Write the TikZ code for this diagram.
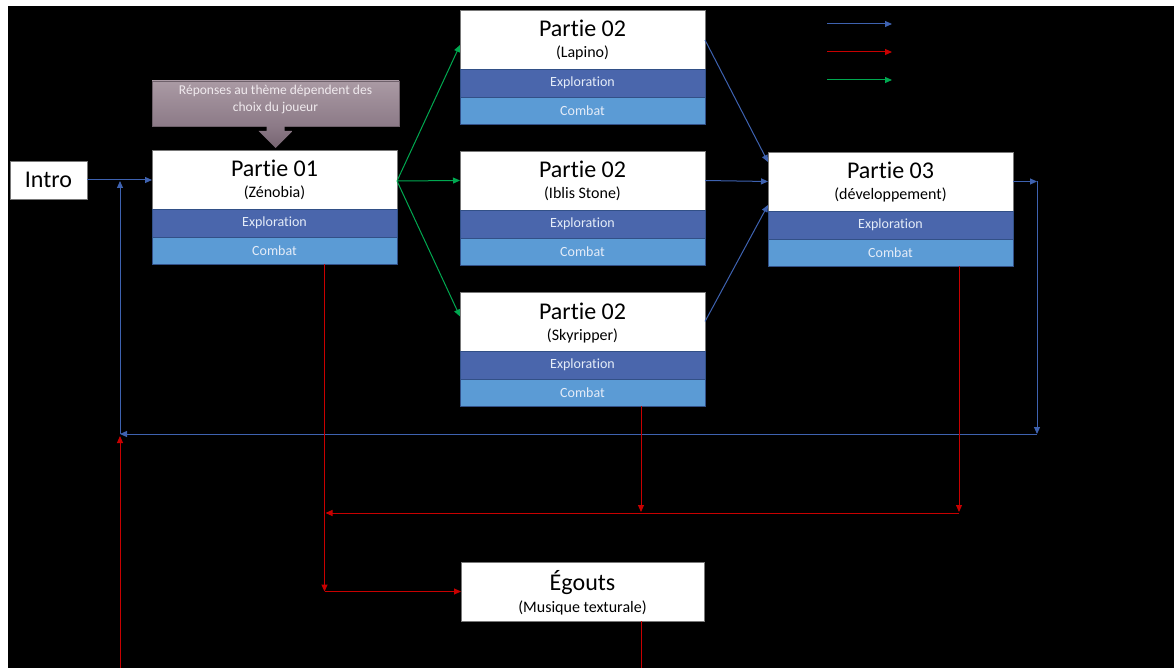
\documentclass[tikz,border=0pt]{standalone}
\usepackage{fontspec}
\setmainfont[Ligatures={NoCommon,NoContextual}]{Carlito}
\usetikzlibrary{arrows.meta,calc}

\definecolor{explblue}{RGB}{74,102,172}
\definecolor{cmbblue}{RGB}{91,155,213}
\definecolor{baredge}{RGB}{50,80,135}
\definecolor{bartext}{RGB}{228,236,248}
\definecolor{flowblue}{RGB}{62,98,176}
\definecolor{flowred}{RGB}{200,0,0}
\definecolor{flowgreen}{RGB}{0,168,80}
\definecolor{mauvetop}{RGB}{170,154,164}
\definecolor{mauvebot}{RGB}{140,122,135}
\definecolor{mauvetip}{RGB}{118,100,113}
\definecolor{mauveedge}{RGB}{110,96,106}
\definecolor{notetext}{RGB}{240,234,238}
\definecolor{boxedge}{RGB}{120,120,120}

\tikzset{
  titlebox/.style={draw=boxedge, line width=0.6pt, fill=white, inner sep=0pt, outer sep=0pt,
    minimum width=245pt, minimum height=59pt},
  ttl/.style={inner sep=0pt, font=\fontsize{24}{28}\selectfont, text=black},
  subttl/.style={inner sep=0pt, font=\fontsize{16}{19}\selectfont, text=black},
  explbox/.style={draw=baredge, line width=0.6pt, fill=explblue, inner sep=0pt, outer sep=0pt,
    minimum width=245pt, minimum height=28pt, text=bartext, font=\fontsize{14}{16}\selectfont},
  cmbbox/.style={draw=baredge, line width=0.6pt, fill=cmbblue, inner sep=0pt, outer sep=0pt,
    minimum width=245pt, minimum height=27pt, text=bartext, font=\fontsize{14}{16}\selectfont},
  notebox/.style={draw=mauveedge, line width=0.5pt, top color=mauvetop, bottom color=mauvebot,
    inner sep=0pt, outer sep=0pt, minimum width=247pt, minimum height=45pt},
  notetxt/.style={inner sep=0pt, text=notetext, font=\fontsize{13.5}{17}\selectfont},
  flow/.style={line width=1pt, -{Triangle[length=7pt,width=6pt]}},
  bflow/.style={flow, draw=flowblue},
  rflow/.style={flow, draw=flowred},
  gflow/.style={flow, draw=flowgreen},
  rline/.style={line width=1pt, draw=flowred},
}

% one game section: title card with an exploration and a combat bar under it
\newcommand\partblock[5]{%
  \node[titlebox, anchor=north west] (#1) at (#2,#3) {};
  \node[ttl, anchor=base] (#1t) at ($(#1.north)+(0,27)$) {#4};
  \node[subttl, anchor=base] (#1s) at ($(#1.north)+(0,48)$) {#5};
  \node[explbox, anchor=north west] (#1e) at (#1.south west) {Exploration};
  \node[cmbbox, anchor=north west] (#1c) at (#1e.south west) {Combat};
}

\begin{document}
\begin{tikzpicture}[x=1pt,y=-1pt]
  % page
  \useasboundingbox (0,0) rectangle (1174,668);
  \fill[black] (0,0) rectangle (1174,668);
  \fill[white] (0,0) rectangle (1174,6);
  \fill[white] (0,0) rectangle (8,668);

  % intro
  \node[draw=boxedge, line width=0.6pt, fill=white, inner sep=0pt, outer sep=0pt,
        minimum width=77pt, minimum height=38pt, anchor=north west,
        font=\fontsize{24}{28}\selectfont] (intro) at (10,161) {Intro};

  % sections
  \partblock{p1}{152}{150}{Partie 01}{(Zénobia)}
  \partblock{p2a}{460}{10}{Partie 02}{(Lapino)}
  \partblock{p2b}{460}{151}{Partie 02}{(Iblis Stone)}
  \partblock{p2c}{460}{292}{Partie 02}{(Skyripper)}
  \partblock{p3}{768}{152}{Partie 03}{(développement)}

  % sewers
  \node[titlebox, minimum width=243pt, anchor=north west] (eg) at (461,562) {};
  \node[ttl, anchor=base] (egt) at ($(eg.north)+(0,28)$) {Égouts};
  \node[subttl, anchor=base] (egs) at ($(eg.north)+(0,50)$) {(Musique texturale)};

  % note with its down arrow
  \node[notebox, anchor=north west] (note) at (152,81) {};
  \shade[top color=mauvebot, bottom color=mauvetip]
    ($(note.south)+(-9,0)$) -- ($(note.south)+(9,0)$) -- ($(note.south)+(9,5)$)
    -- ($(note.south)+(17,5)$) -- ($(note.south)+(0,22)$) -- ($(note.south)+(-17,5)$)
    -- ($(note.south)+(-9,5)$) -- cycle;
  \node[notetxt, anchor=base] (note1) at ($(note.north)+(0,14)$) {Réponses au thème dépendent des};
  \node[notetxt, anchor=base] (note2) at ($(note.north)+(0,31)$) {choix du joueur};

  % legend
  \coordinate (k1) at (827,24);  \coordinate (k1e) at (892,24);
  \coordinate (k2) at (827,52);  \coordinate (k2e) at (892,52);
  \coordinate (k3) at (827,80);  \coordinate (k3e) at (892,80);
  \draw[bflow] (k1) -- (k1e);
  \draw[rflow] (k2) -- (k2e);
  \draw[gflow] (k3) -- (k3e);

  % intro into part 1
  \draw[bflow] (intro.east) -- (intro.east -| p1.west);

  % part 1 branches to the three parts 2
  \coordinate (g0) at ($(p1.east)+(0,1.5)$);
  \draw[gflow] (g0) -- ($(p2a.west)+(0,5.5)$);
  \draw[gflow] (g0) -- (p2b.west);
  \draw[gflow] (g0) -- ($(p2c.west)+(0,-5)$);

  % parts 2 join into part 3
  \draw[bflow] ($(p2a.east)+(0,0.5)$) -- ($(p3.west)+(0,-19.5)$);
  \draw[bflow] (p2b.east) -- (p3.west);
  \draw[bflow] (p2c.east) -- ($(p3.west)+(0,23.5)$);

  % loop back from part 3
  \coordinate (r1) at ($(p3.east)+(24,0)$);
  \coordinate (r2) at (r1 |- 0,434);
  \coordinate (l1) at (120,434);
  \draw[bflow] (p3.east) -- (r1);
  \draw[bflow] (r1) -- (r2);
  \draw[bflow] (r2) -- (l1);
  \draw[bflow] (l1) -- ($(l1 |- intro.east)+(0,1)$);

  % red paths towards the sewers
  \coordinate (c1) at ($(p1c.south)+(50,0)$);
  \coordinate (c2) at (c1 |- eg.west);
  \coordinate (c3) at ($(p2cc.south)+(58.5,0)$);
  \coordinate (c5) at ($(p3c.south)+(68.5,0)$);
  \coordinate (m) at (0,513);
  \draw[rflow] (c1) -- (c2);
  \draw[rflow] (c2) -- (eg.west);
  \draw[rflow] (c3) -- ($(c3 |- m)+(0,-1)$);
  \draw[rflow] (c5) -- ($(c5 |- m)+(0,-1)$);
  \draw[rflow] (c5 |- m) -- ($(c1 |- m)+(1,0)$);

  % out of the sewers, and back up on the left
  \coordinate (c6) at ($(eg.south)+(58.5,0)$);
  \coordinate (b0) at (120,668);
  \draw[rline] (c6) -- (c6 |- b0);
  \draw[rflow] (b0) -- ($(l1)+(0,2)$);
\end{tikzpicture}
\end{document}
